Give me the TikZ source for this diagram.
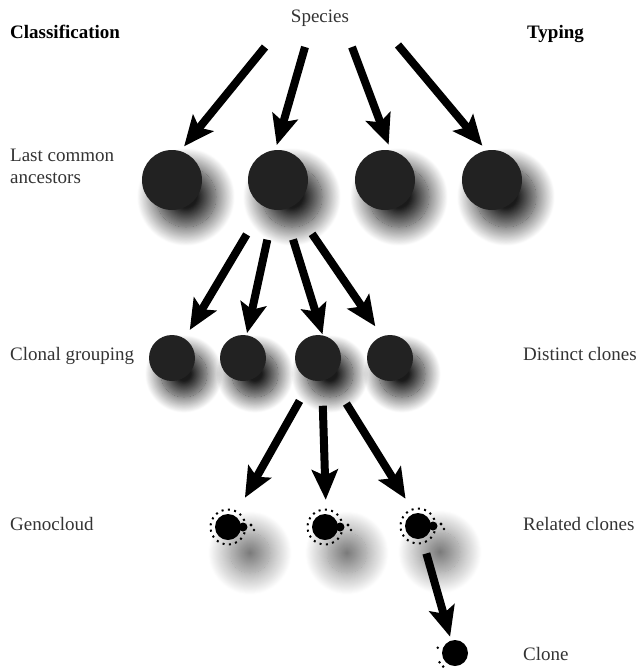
\documentclass[tikz,border=0pt]{standalone}
\usepackage{fontspec}
\setmainfont{Liberation Serif}
\usepackage{xcolor}
\definecolor{DotGray}{HTML}{222222}
\definecolor{TextGray}{HTML}{333333}
\usetikzlibrary{arrows.meta,shadows.blur}
\tikzset{
  lbl/.style={
    anchor=base west,
    inner sep=0pt,
    text=TextGray,
    align=left,
    font=\fontsize{19}{22}\selectfont
  },
  lblbold/.style={
    lbl,
    text=black,
    font=\fontsize{19}{22}\selectfont\bfseries
  },
  bigdot/.style={
    circle,
    fill=DotGray,
    minimum size=60pt,
    inner sep=0pt,
    blur shadow={shadow xshift=14pt, shadow yshift=-17pt, shadow blur radius=19pt, shadow blur steps=24, shadow opacity=90}
  },
  middot/.style={
    circle,
    fill=DotGray,
    minimum size=46pt,
    inner sep=0pt,
    blur shadow={shadow xshift=12pt, shadow yshift=-16pt, shadow blur radius=16pt, shadow blur steps=24, shadow opacity=90}
  },
  genodot/.style={
    circle,
    fill=black,
    minimum size=26pt,
    inner sep=0pt
  },
  genoshade/.style={
    blur shadow={shadow xshift=22pt, shadow yshift=-26pt, shadow blur radius=22pt, shadow blur steps=24, shadow opacity=55}
  },
  genoring/.style={
    draw=black,
    line width=2pt,
    dash pattern=on 2pt off 4.4pt
  },
  fatarrow/.style={
    draw=black,
    line width=8pt,
    -{Stealth[length=30pt, width=26pt, inset=6pt]}
  }
}

\begin{document}
\begin{tikzpicture}[x=1pt,y=-1pt]
  \useasboundingbox (0,0) rectangle (639,670);
  % labels
  \node[lbl, anchor=base] (species) at (320,22) {Species};
  \node[lblbold] (classif) at (10,38) {Classification};
  \node[lblbold] (typing) at (527,38) {Typing};
  \node[lbl] (lcalbl) at (10,183) {Last common\\ancestors};
  \node[lbl] (clonallbl) at (10,360) {Clonal grouping};
  \node[lbl] (distinct) at (523,360) {Distinct clones};
  \node[lbl] (genolbl) at (10,530) {Genocloud};
  \node[lbl] (related) at (523,530) {Related clones};
  \node[lbl] (clonelbl) at (523,660) {Clone};
  % last common ancestors
  \node[bigdot] (lca1) at (172,180) {};
  \node[bigdot] (lca2) at (278,180) {};
  \node[bigdot] (lca3) at (385,180) {};
  \node[bigdot] (lca4) at (492,180) {};
  % clonal groups
  \node[middot] (clonal1) at (172,358) {};
  \node[middot] (clonal2) at (243,358) {};
  \node[middot] (clonal3) at (318,358) {};
  \node[middot] (clonal4) at (390,358) {};
  % genoclouds
  \path[genoshade] (228,527) circle (20pt);
  \path[genoshade] (325,527) circle (20pt);
  \path[genoshade] (418,526) circle (20pt);
  \node[genodot] (geno1) at (228,527) {};
  \node[genodot] (geno2) at (325,527) {};
  \node[genodot] (geno3) at (418,526) {};
  \foreach \g in {geno1,geno2,geno3}{
    \draw[genoring] (\g) circle (17.5pt);
    \fill (\g) ++(15pt,0pt) circle (4.5pt);
    \fill (\g) ++(23pt,2pt) circle (1.6pt);
    \fill (\g) ++(26pt,-3pt) circle (1.3pt);
  }
  \node[genodot] (clone) at (455,653) {};
  \foreach \a in {163,211,229}{\fill (clone) ++(\a:18pt) circle (1.4pt);}
  % arrows
  \coordinate (s1) at (265,47);
  \coordinate (s2) at (305,47);
  \coordinate (s3) at (352,47);
  \coordinate (s4) at (398,45);
  \draw[fatarrow, shorten >=6pt] (s1) -- (lca1.74);
  \draw[fatarrow, shorten >=5pt] (s2) -- (lca2.95);
  \draw[fatarrow, shorten >=6pt] (s3) -- (lca3.79);
  \draw[fatarrow, shorten >=6pt] (s4) -- (lca4.101);
  \draw[fatarrow, shorten <=32.6pt, shorten >=10pt] (lca2.241.4) -- (clonal1.57);
  \draw[fatarrow, shorten <=30.5pt, shorten >=2pt] (lca2.262.4) -- (clonal2.81);
  \draw[fatarrow, shorten <=31.2pt, shorten >=1pt] (lca2.281.3) -- (clonal3.78);
  \draw[fatarrow, shorten <=33.6pt, shorten >=12pt] (lca2.300.2) -- (clonal4.110);
  \draw[fatarrow, shorten <=23.8pt, shorten >=20.6pt] (clonal3.253.9) -- (geno1.59.6);
  \draw[fatarrow, shorten <=24.9pt, shorten >=14.1pt] (clonal3.280.8) -- (geno2.85.8);
  \draw[fatarrow, shorten <=30.5pt, shorten >=17.1pt] (clonal3.302.8) -- (geno3.105.4);
  \draw[fatarrow, shorten <=15.5pt, shorten >=3.8pt] (geno3.288.4) -- (clone.107.4);
\end{tikzpicture}
\end{document}
